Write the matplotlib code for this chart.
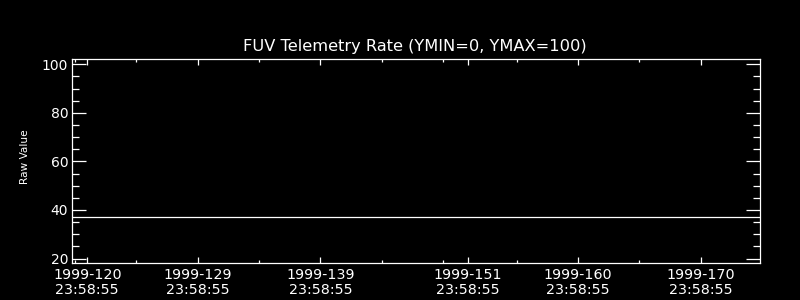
import matplotlib
matplotlib.use("Agg")
import matplotlib.pyplot as plt
from matplotlib.ticker import FixedLocator, FixedFormatter, MultipleLocator

# Data (day-of-year, all at 23:58:55)
day_values = [118.78, 125.0, 135.0, 145.0, 155.0, 165.0, 174.86]
raw_values = [37.0, 37.0, 37.0, 37.0, 37.0, 37.0, 37.0]

major_days = [120, 129, 139, 151, 160, 170]
major_labels = ["1999-120\n23:58:55", "1999-129\n23:58:55", "1999-139\n23:58:55",
                "1999-151\n23:58:55", "1999-160\n23:58:55", "1999-170\n23:58:55"]
minor_days = [119, 124, 134, 144, 149, 155, 165]

title = "FUV Telemetry Rate (YMIN=0, YMAX=100)"
ylabel = "Raw Value"

fg = "white"
fig = plt.figure(figsize=(8, 3), dpi=100, facecolor="black")
ax = fig.add_axes([72.3 / 800, 1 - 263 / 300, (760.3 - 72.3) / 800, (263 - 59) / 300])
ax.set_facecolor("black")

ax.plot(day_values, raw_values, color=fg, linewidth=0.9)

ax.set_xlim(118.78, 174.86)
ax.set_ylim(18.15, 102.15)

ax.xaxis.set_major_locator(FixedLocator(major_days))
ax.xaxis.set_major_formatter(FixedFormatter(major_labels))
ax.xaxis.set_minor_locator(FixedLocator(minor_days))
ax.yaxis.set_major_locator(FixedLocator([20, 40, 60, 80, 100]))
ax.yaxis.set_minor_locator(MultipleLocator(5))

for s in ax.spines.values():
    s.set_color(fg)
    s.set_linewidth(0.9)

ax.tick_params(axis="both", which="both", direction="in", colors=fg, width=0.9,
               top=True, right=True, labelsize=10)
ax.tick_params(axis="x", which="major", length=4.3, pad=3.5, labelsize=10.3)
ax.tick_params(axis="x", which="minor", length=2.2)
ax.tick_params(axis="y", which="major", length=10, pad=3)
ax.tick_params(axis="y", which="minor", length=5)
for lab in ax.get_xticklabels():
    lab.set_linespacing(1.1)

fig.text(415 / 800, 1 - 46 / 300, title, color=fg, fontsize=11.7,
         ha="center", va="center")
fig.text(25 / 800, 1 - 157 / 300, ylabel, color=fg, fontsize=7.6,
         ha="center", va="center", rotation=90)

fig.savefig("out.png", dpi=100, facecolor="black")
